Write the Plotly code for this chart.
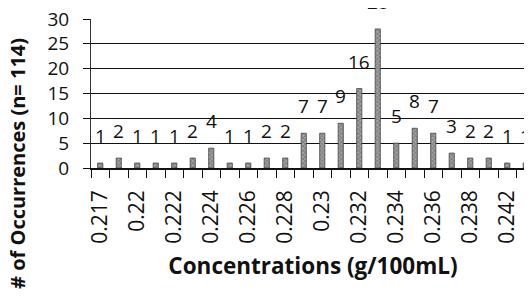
import plotly.graph_objects as go

categories = ["0.217", "0.219", "0.22", "0.221", "0.222", "0.223", "0.224", "0.225",
              "0.226", "0.227", "0.228", "0.229", "0.23", "0.231", "0.232", "0.233",
              "0.234", "0.235", "0.236", "0.237", "0.238", "0.24", "0.242", "0.243"]
counts = [1, 2, 1, 1, 1, 2, 4, 1, 1, 2, 2, 7, 7, 9, 16, 28, 5, 8, 7, 3, 2, 2, 1, 1]
shown_ticks = ["0.217", "0.22", "0.222", "0.224", "0.226", "0.228", "0.23",
               "0.232", "0.234", "0.236", "0.238", "0.242"]
y_ticks = [0, 5, 10, 15, 20, 25, 30]

FONT = "Open Sans"

fig = go.Figure()
fig.add_trace(go.Bar(
    x=categories, y=counts,
    marker=dict(color="#a8a8a8",
                line=dict(color="#444444", width=0.8),
                pattern=dict(shape="x", fgcolor="#4a4a4a", size=3, solidity=0.5)),
    width=0.28,
))

# category axis: annotations are placed by category index
for i, v in enumerate(counts):
    fig.add_annotation(x=i, y=v, text=str(v), showarrow=False, yanchor="bottom",
                       yshift=12, font=dict(family=FONT, size=19, color="#111111"))

# y-axis title placed as rotated annotation (sits low, as in the reference)
fig.add_annotation(xref="paper", yref="paper", x=0, y=0.027, xanchor="center",
                   yanchor="middle", xshift=-73, textangle=-90, showarrow=False,
                   text="<b># of Occurrences (n= 114)</b>",
                   font=dict(family=FONT, size=20, color="#111111"))

fig.update_layout(
    width=532, height=300,
    margin=dict(l=83, r=5, t=11, b=140),
    paper_bgcolor="white", plot_bgcolor="white",
    showlegend=False,
    font=dict(family=FONT, color="#111111"),
)
fig.update_xaxes(
    type="category", categoryorder="array", categoryarray=categories,
    range=[-0.5, 23.5], automargin=False,
    tickmode="array", tickvals=categories,
    ticktext=[c if c in shown_ticks else "" for c in categories],
    tickson="boundaries", ticks="outside", ticklen=8, tickcolor="#111111",
    tickangle=-90, tickfont=dict(family=FONT, size=21, color="#111111"),
    ticklabelstandoff=12,
    showgrid=False, showline=True, linecolor="#111111", linewidth=1.5,
    title=dict(text="<b>Concentrations (g/100mL)</b>",
               font=dict(family=FONT, size=22.5, color="#111111"), standoff=16),
)
fig.update_yaxes(
    range=[0, 30], tickmode="array", tickvals=y_ticks, automargin=False,
    ticks="outside", ticklen=7, tickcolor="#111111",
    tickfont=dict(family=FONT, size=19, color="#111111"),
    ticklabelstandoff=10, ticklabeloverflow="allow",
    showgrid=True, gridcolor="#111111", gridwidth=1.2,
    showline=True, linecolor="#333333", linewidth=1,
    zeroline=False,
)

fig.write_html("out.html")
